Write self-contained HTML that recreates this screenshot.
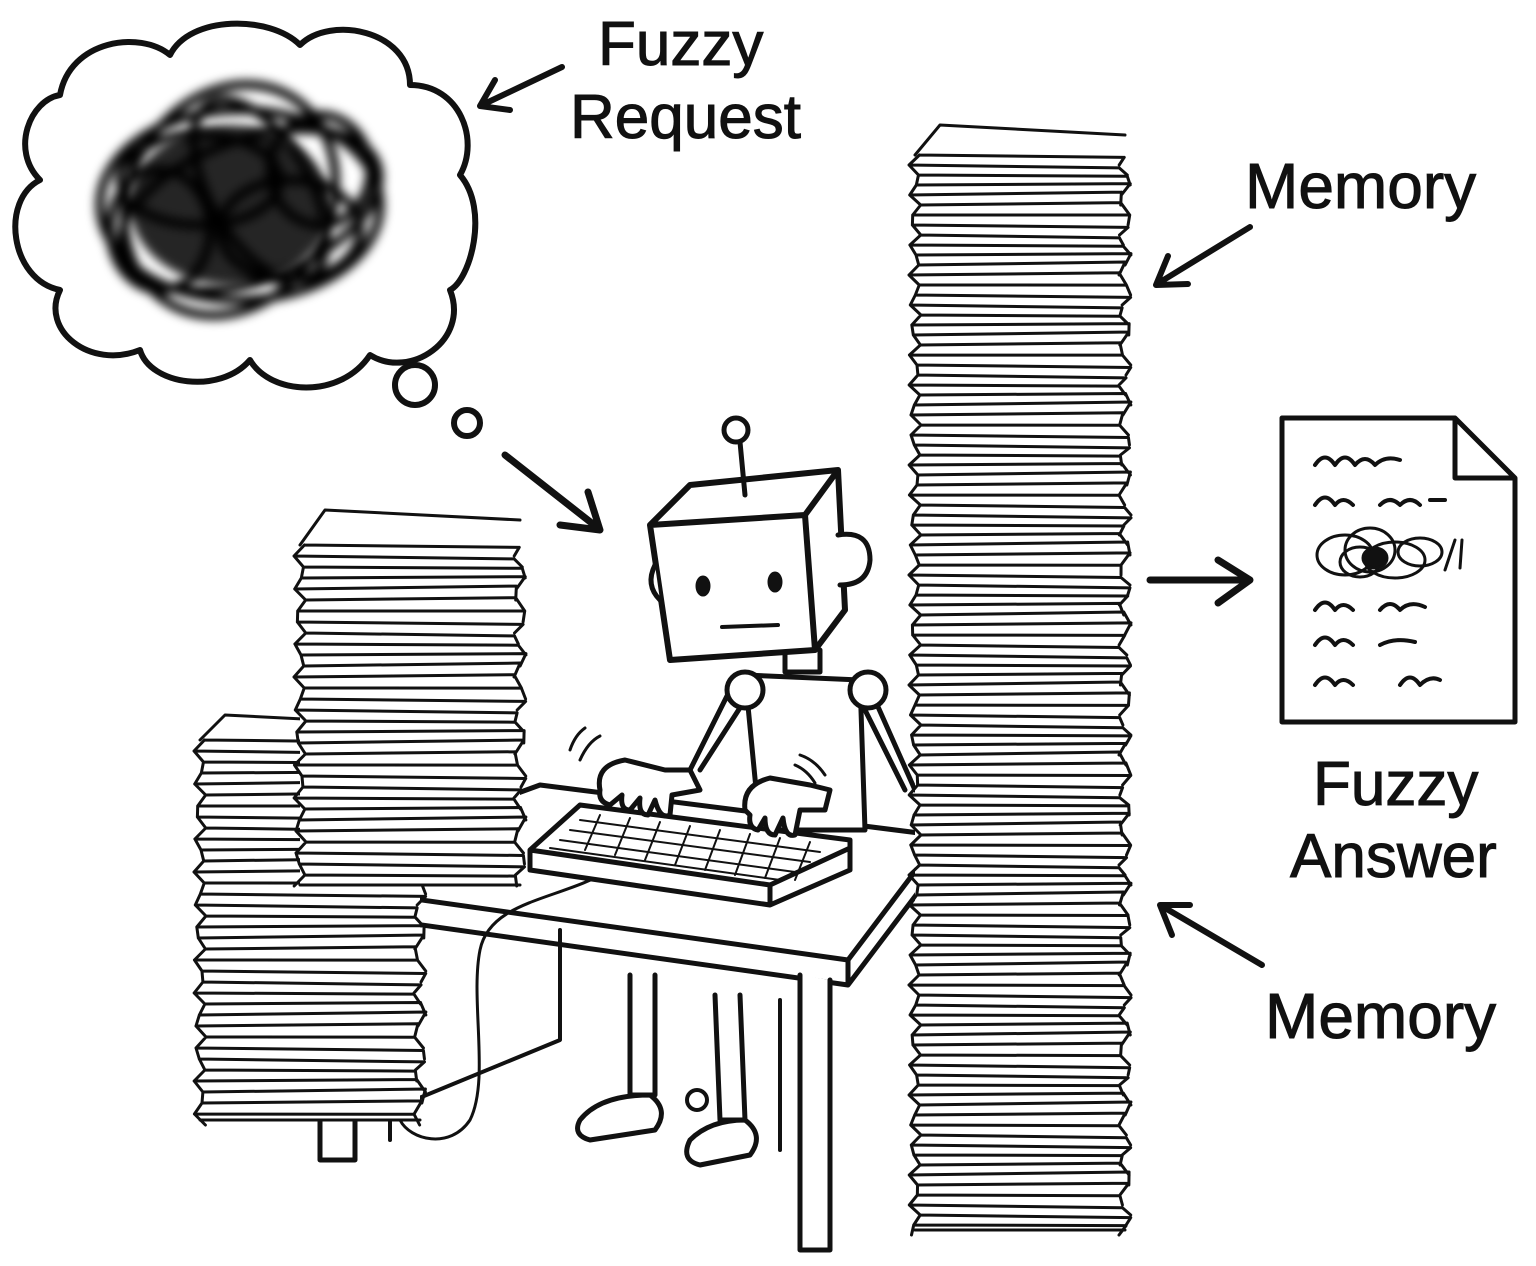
<!DOCTYPE html>
<html><head><meta charset="utf-8">
<style>
html,body{margin:0;padding:0;background:#fff;}
svg{display:block}
text{font-family:"Liberation Sans",sans-serif;fill:#111;stroke:#111;stroke-width:1;}
</style></head>
<body>
<svg id="s" width="1536" height="1266" viewBox="0 0 1536 1266" xmlns="http://www.w3.org/2000/svg">
<defs>
<filter id="blur"><feGaussianBlur stdDeviation="5"/></filter>
</defs>
<g fill="none" stroke="#111" stroke-linecap="round" stroke-linejoin="round">
<!-- thought cloud -->
<path stroke-width="6" d="M60,95 C70,40 140,30 170,55 C190,15 270,15 300,45 C330,15 410,30 410,85 C460,85 480,140 460,175 C490,210 470,280 450,290 C470,340 410,380 370,355 C340,400 270,395 250,360 C220,395 150,385 140,350 C90,370 40,330 60,290 C10,280 0,200 40,180 C10,150 30,100 60,95 Z"/>
<g filter="url(#blur)" stroke-width="9" stroke="#000">
<ellipse cx="240" cy="205" rx="140" ry="95"/>
<ellipse cx="230" cy="200" rx="100" ry="120" transform="rotate(30 230 200)"/>
<ellipse cx="250" cy="210" rx="135" ry="70" transform="rotate(-20 250 210)"/>
<ellipse cx="260" cy="190" rx="100" ry="50" transform="rotate(60 260 190)"/>
<ellipse cx="200" cy="180" rx="80" ry="45"/>
<ellipse cx="290" cy="230" rx="70" ry="50"/>
<ellipse cx="160" cy="230" rx="50" ry="60"/>
<ellipse cx="320" cy="170" rx="50" ry="55"/>
</g>
<ellipse cx="230" cy="205" rx="100" ry="80" fill="#000" filter="url(#blur)" stroke="none" opacity="0.85"/>
<circle cx="415" cy="385" r="20" stroke-width="6"/>
<circle cx="467" cy="423" r="13" stroke-width="6"/>
<!-- arrows -->
<path stroke-width="7" d="M505,455 L598,528 M560,525 L600,530 L588,492"/>
<path stroke-width="6" d="M562,67 L482,105 M495,80 L480,106 L510,110"/>
<path stroke-width="6" d="M1250,227 L1157,284 M1168,256 L1156,285 L1188,284"/>
<path stroke-width="7" d="M1150,580 L1248,580 M1218,560 L1250,580 L1218,603"/>
<path stroke-width="6" d="M1262,965 L1160,905 M1190,905 L1160,905 L1172,935"/>
<!-- document -->
<path stroke-width="5" fill="#fff" d="M1282,418 L1455,418 L1515,478 L1515,722 L1282,722 Z M1455,418 L1455,478 L1515,478"/>
<g stroke-width="4">
<path d="M1315,465 q10,-15 20,0 q10,-15 20,0 q10,-12 20,0 q10,-10 25,-5"/>
<path d="M1315,505 q10,-15 20,0 q8,-10 18,0 M1380,505 q10,-10 20,0 q10,-10 20,0 M1430,500 l15,0"/>
<path d="M1315,610 q10,-15 20,0 q8,-10 18,0 M1380,610 q10,-12 20,0 q10,-10 25,-3"/>
<path d="M1315,645 q10,-15 20,0 q8,-10 18,0 M1380,645 q15,-8 35,-3"/>
<path d="M1315,685 q10,-15 20,0 q8,-10 18,0 M1400,685 q10,-15 20,0 q10,-10 20,-5"/>
<g stroke-width="3"><ellipse cx="1345" cy="555" rx="28" ry="20"/><ellipse cx="1370" cy="550" rx="25" ry="22"/><ellipse cx="1395" cy="560" rx="30" ry="18"/><ellipse cx="1360" cy="562" rx="20" ry="15"/><ellipse cx="1420" cy="552" rx="22" ry="14"/><ellipse cx="1375" cy="558" rx="12" ry="10" fill="#111"/><path d="M1445,570 l10,-30 M1460,568 l2,-28"/></g>
</g>
<!-- desk -->
<path stroke-width="5" fill="#fff" d="M280,880 L540,785 L935,835 L935,870 L848,985 L280,905 Z M280,880 L848,960 L935,845 M848,960 L848,985"/>
<path stroke-width="5" fill="#fff" d="M320,910 L320,1160 L355,1160 L355,912 M800,975 L800,1250 L830,1250 L830,980"/>
<path stroke-width="4" d="M390,1110 L560,1040 L560,930 M390,1110 L390,1140 M780,1000 L780,1150"/>
<path stroke-width="3" d="M610,870 C560,900 490,900 480,950 C470,1000 490,1080 470,1120 C450,1150 410,1140 400,1120"/>
<!-- robot legs -->
<path stroke-width="5" fill="#fff" d="M630,975 L630,1095 L655,1095 L655,975 M715,995 L720,1120 L745,1120 L740,995"/>
<path stroke-width="5" fill="#fff" d="M580,1120 Q600,1095 650,1095 Q670,1110 655,1130 L590,1140 Q572,1135 580,1120 Z M690,1140 Q710,1120 745,1120 Q765,1135 750,1155 L700,1165 Q680,1160 690,1140 Z"/>
<circle cx="697" cy="1100" r="10" stroke-width="4"/>
<!-- robot body -->
<path stroke-width="5" fill="#fff" d="M745,675 L860,680 L865,830 L760,830 Z"/>
<path stroke-width="5" d="M745,700 L700,770 M860,700 L905,790 M730,690 L690,770 M875,700 L915,790"/>
<circle cx="745" cy="690" r="18" stroke-width="5" fill="#fff"/>
<circle cx="868" cy="690" r="18" stroke-width="5" fill="#fff"/>
<path stroke-width="5" fill="#fff" d="M785,650 L785,672 L820,672 L820,650"/>
<!-- keyboard -->
<path stroke-width="5" fill="#fff" d="M530,850 L580,805 L850,840 L850,870 L770,905 L530,870 Z M530,850 L770,885 L850,848 M770,885 L770,905"/>
<g stroke-width="2"><path d="M580,820 L820,852 M570,830 L810,862 M560,840 L795,872 M550,848 L780,880"/>
<path d="M600,815 L585,850 M630,818 L615,855 M660,822 L645,860 M690,826 L675,865 M720,830 L705,870 M750,834 L735,875 M780,838 L765,878 M810,842 L795,880"/></g>
<!-- hands -->
<path stroke-width="5" fill="#fff" d="M600,790 Q595,765 625,760 L665,770 L690,770 L700,790 L672,795 L670,815 Q660,820 655,800 L648,815 Q638,815 640,798 L630,810 Q620,810 622,795 L610,805 Q598,802 600,790 Z"/>
<path stroke-width="5" fill="#fff" d="M745,810 Q742,785 770,778 L810,785 L830,790 L825,810 L800,810 L795,835 Q785,838 783,818 L775,835 Q765,835 765,818 L758,830 Q748,828 750,815 Z"/>
<path stroke-width="3" d="M570,750 q5,-15 15,-22 M580,760 q8,-18 20,-24 M800,755 q15,5 25,20 M795,765 q12,5 20,18"/>
<!-- robot head -->
<path stroke-width="6" fill="#fff" d="M650,525 L690,485 L838,470 L845,610 L815,650 L670,660 Z M650,525 L805,515 L838,470 M805,515 L815,650"/>
<path stroke-width="5" d="M745,495 L740,442"/>
<circle cx="736" cy="430" r="12" stroke-width="5" fill="#fff"/>
<path stroke-width="5" fill="#fff" d="M838,535 Q870,530 870,560 Q868,585 840,585"/>
<path stroke-width="5" fill="#fff" d="M655,565 Q645,585 660,600"/>
<ellipse cx="703" cy="586" rx="7" ry="10" fill="#111"/>
<ellipse cx="775" cy="582" rx="7" ry="10" fill="#111"/>
<path stroke-width="4" d="M722,627 L778,625"/>
<g id="stacks" stroke-width="3"></g>
</g>
<text x="598" y="65" font-size="62">Fuzzy</text>
<text x="570" y="138" font-size="62">Request</text>
<text x="1245" y="208" font-size="64">Memory</text>
<text x="1313" y="805" font-size="62">Fuzzy</text>
<text x="1290" y="877" font-size="62">Answer</text>
<text x="1265" y="1038" font-size="64">Memory</text>
</svg>
<script>
var g=document.getElementById('stacks'),ns='http://www.w3.org/2000/svg';
function stack(x1,x2,y1,y2,step,topDepth){
  var p=document.createElementNS(ns,'path');
  p.setAttribute('d','M'+x1+','+(y1+topDepth)+' L'+(x1+25)+','+y1+' L'+x2+','+(y1+10)+' L'+x2+','+y2+' L'+x1+','+y2+' Z');
  p.setAttribute('fill','#fff');p.setAttribute('stroke','none');g.appendChild(p);
  var d='M'+x1+','+(y1+topDepth)+' L'+(x1+25)+','+y1+' L'+x2+','+(y1+10)+' ';
  var i=0;
  for(var y=y1+topDepth;y<y2-3;y+=step){
    i++;
    var a=Math.sin(i*2.3)*6, b=Math.cos(i*1.7)*6, t=Math.sin(i*0.9)*3;
    d+='M'+(x1+a)+','+y+' L'+(x2+b)+','+(y+t)+' ';
    d+='M'+(x1+a)+','+y+' L'+(x1+Math.sin((i+1)*2.3)*6)+','+(y+step)+' ';
    d+='M'+(x2+b)+','+(y+t)+' L'+(x2+Math.cos((i+1)*1.7)*6)+','+(y+step)+' ';
  }
  d+='M'+x1+','+y2+' L'+x2+','+y2;
  var q=document.createElementNS(ns,'path');q.setAttribute('d',d);q.setAttribute('stroke-width','3');g.appendChild(q);
}
stack(200,420,715,1120,11,25);
stack(300,520,510,885,11,35);
stack(915,1125,125,1230,10,30);
</script>
</body></html>
